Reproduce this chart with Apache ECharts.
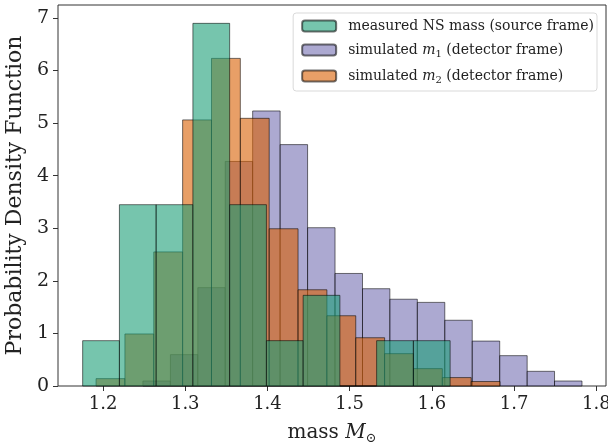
<!DOCTYPE html>
<html>
<head>
<meta charset="utf-8">
<script src="https://cdn.jsdelivr.net/npm/echarts@6/dist/echarts.min.js"></script>
<style>
  html, body { margin: 0; padding: 0; background: #fff; }
  #main { width: 608px; height: 444px; }
</style>
</head>
<body>
<div id="main"></div>
<script>
// measured NS mass (source frame)
var measuredEdges = [1.1752, 1.2199, 1.2646, 1.3093, 1.354, 1.3987, 1.4434, 1.4881, 1.5328, 1.5775, 1.6222];
var measuredDensity = [0.862, 3.448, 3.448, 6.896, 3.448, 0.862, 1.724, 0, 0.862, 0.862];

// simulated m1 (detector frame)
var m1Edges = [1.2485, 1.2819, 1.3153, 1.3486, 1.382, 1.4154, 1.4488, 1.4822, 1.5156, 1.5489, 1.5823, 1.6157, 1.6491, 1.6825, 1.7159, 1.7492, 1.7826];
var m1Density = [0.095, 0.596, 1.87, 4.27, 5.23, 4.59, 3.01, 2.14, 1.85, 1.65, 1.59, 1.25, 0.854, 0.577, 0.279, 0.095];

// simulated m2 (detector frame)
var m2Edges = [1.1915, 1.2266, 1.2617, 1.2968, 1.3319, 1.367, 1.4021, 1.4372, 1.4723, 1.5074, 1.5425, 1.5776, 1.6127, 1.6478, 1.6829];
var m2Density = [0.14, 0.99, 2.55, 5.06, 6.23, 5.09, 2.99, 1.83, 1.336, 0.918, 0.615, 0.33, 0.16, 0.085];

var xTicks = [1.2, 1.3, 1.4, 1.5, 1.6, 1.7, 1.8];
var yTicks = [0, 1, 2, 3, 4, 5, 6, 7];

var FONT = 'DejaVu Serif';

// histogram bins -> [left, right, height]
function toBins(edges, dens) {
  var out = [];
  for (var i = 0; i < dens.length; i++) {
    out.push([edges[i], edges[i + 1], dens[i]]);
  }
  return out;
}

function renderBar(params, api) {
  var p0 = api.coord([api.value(0), api.value(2)]);
  var p1 = api.coord([api.value(1), 0]);
  return {
    type: 'rect',
    shape: { x: p0[0], y: p0[1], width: p1[0] - p0[0], height: p1[1] - p0[1] },
    style: { fill: api.visual('color'), stroke: 'rgba(0,0,0,0.55)', lineWidth: 1 }
  };
}

function histSeries(name, color, edges, dens) {
  return {
    name: name,
    type: 'custom',
    renderItem: renderBar,
    encode: { x: [0, 1], y: 2 },
    itemStyle: { color: color, borderColor: 'rgba(0,0,0,0.55)', borderWidth: 1 },
    data: toBins(edges, dens)
  };
}

var chart = echarts.init(document.getElementById('main'));

var txt = { fontFamily: FONT, fontSize: 14, color: '#222', lineHeight: 18 };

var option = {
  animation: false,
  grid: {
    left: 58, right: 2, top: 5, bottom: 58,
    outerBoundsMode: 'none',
    show: true, borderColor: '#333', borderWidth: 1
  },
  legend: {
    orient: 'vertical',
    right: 11, top: 13,
    padding: [6, 3, 6, 8],
    itemGap: 10,
    itemWidth: 34, itemHeight: 11,
    borderColor: '#d9d9d9', borderWidth: 1, borderRadius: 3,
    data: ['measured', 'm1', 'm2'],
    formatter: function (name) {
      if (name === 'measured') return '{p|measured NS mass (source frame)}';
      if (name === 'm1') return '{p|simulated }{i|m}{s|1}{a| (detector frame)}';
      return '{p|simulated }{i|m}{s|2}{a| (detector frame)}';
    },
    textStyle: {
      fontFamily: FONT, fontSize: 14, color: '#222',
      rich: {
        p: Object.assign({ padding: [0, 0, 0, 7] }, txt),
        a: txt,
        i: Object.assign({ fontStyle: 'italic' }, txt),
        s: { fontFamily: FONT, fontSize: 10, color: '#222', verticalAlign: 'bottom', lineHeight: 10 }
      }
    }
  },
  xAxis: {
    type: 'value',
    min: 1.1452, max: 1.8118,
    name: '{a|mass }{i|M}{s|⊙}',
    nameLocation: 'middle',
    nameGap: 35,
    nameTextStyle: {
      rich: {
        a: { fontFamily: FONT, fontSize: 20, color: '#222', lineHeight: 24 },
        i: { fontFamily: FONT, fontSize: 20, color: '#222', fontStyle: 'italic', lineHeight: 24 },
        s: { fontFamily: FONT, fontSize: 13, color: '#222', verticalAlign: 'bottom', lineHeight: 13 }
      }
    },
    splitLine: { show: false },
    axisLine: { show: false },
    axisTick: { show: true, length: 5, lineStyle: { color: '#333' }, customValues: xTicks },
    axisLabel: {
      fontFamily: FONT, fontSize: 18, color: '#222', margin: 9,
      customValues: xTicks,
      formatter: function (v) { return v.toFixed(1); }
    }
  },
  yAxis: {
    type: 'value',
    min: 0, max: 7.245,
    name: 'Probability Density Function',
    nameLocation: 'middle',
    nameGap: 31,
    nameTextStyle: { fontFamily: FONT, fontSize: 22, color: '#222' },
    splitLine: { show: false },
    axisLine: { show: false },
    axisTick: { show: true, length: 5, lineStyle: { color: '#333' }, customValues: yTicks },
    axisLabel: {
      fontFamily: FONT, fontSize: 19, color: '#222', margin: 9,
      customValues: yTicks
    }
  },
  series: [
    histSeries('m1', 'rgba(117,112,179,0.6)', m1Edges, m1Density),
    histSeries('m2', 'rgba(217,95,2,0.6)', m2Edges, m2Density),
    histSeries('measured', 'rgba(27,158,119,0.6)', measuredEdges, measuredDensity)
  ]
};

chart.setOption(option);
</script>
</body>
</html>
